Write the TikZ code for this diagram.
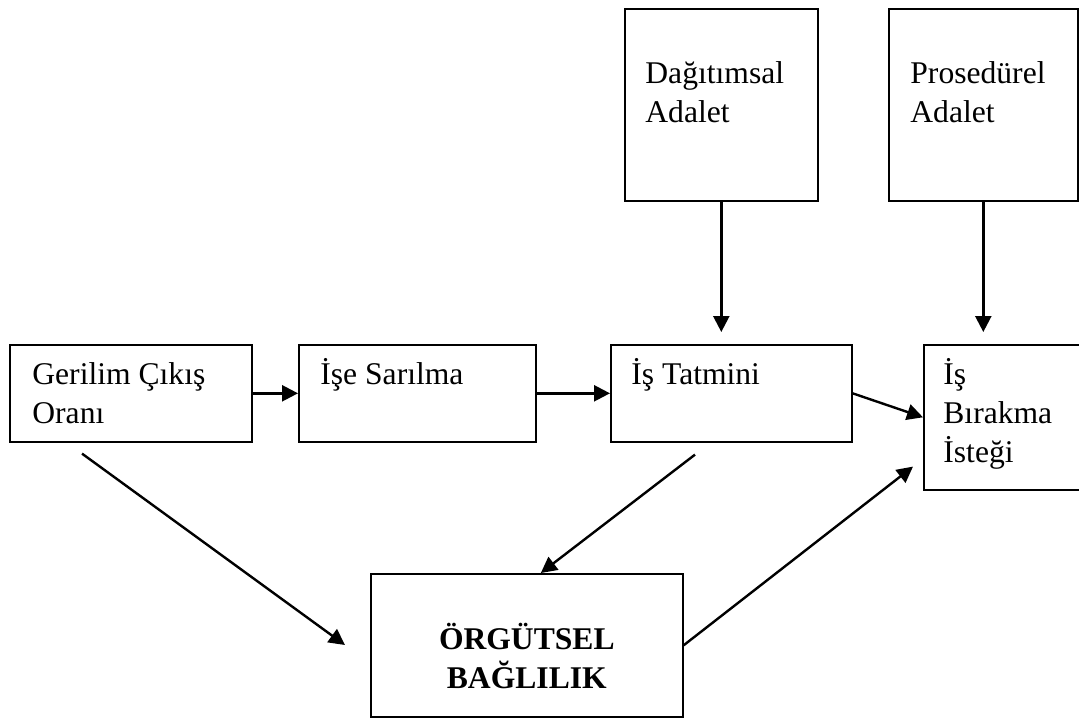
\documentclass[tikz,border=0pt]{standalone}
\usepackage{fontspec}
\setmainfont{Liberation Serif}
\usetikzlibrary{arrows.meta}
\newcommand{\metin}{\fontsize{15.8}{19.5}\selectfont}
\tikzset{kutu/.style={rectangle, draw, line width=0.8pt, inner sep=0pt, anchor=north west}}
\tikzset{yazi/.style={anchor=base west, align=left, inner sep=0pt, font=\metin}}
\tikzset{ok/.style={line width=1.2pt, -{Triangle[length=8pt, width=8pt]}}}

\begin{document}
\begin{tikzpicture}[x=0.5pt, y=-0.5pt]

    \useasboundingbox (0,0) rectangle (1079,718);
    \clip (0,0) rectangle (1079,718);

    \node[kutu, minimum width=96.5pt, minimum height=96pt,
          label={[yazi, xshift=10.5pt, yshift=-57pt]north west:Dağıtımsal\\Adalet}] (dag) at (624,8) {};
    \node[kutu, minimum width=94.5pt, minimum height=96pt,
          label={[yazi, xshift=11pt, yshift=-57pt]north west:Prosedürel\\Adalet}] (pro) at (888,8) {};

    \node[kutu, minimum width=121pt, minimum height=48.5pt,
          label={[yazi, xshift=11.5pt, yshift=-39.5pt]north west:Gerilim Çıkış\\Oranı}] (gco) at (9,344) {};
    \node[kutu, minimum width=118.5pt, minimum height=48.5pt,
          label={[yazi, xshift=11pt, yshift=-20pt]north west:İşe Sarılma}] (ise) at (298,344) {};
    \node[kutu, minimum width=120.5pt, minimum height=48.5pt,
          label={[yazi, xshift=10.5pt, yshift=-20pt]north west:İş Tatmini}] (ist) at (610,344) {};
    \node[kutu, minimum width=85pt, minimum height=72.5pt,
          label={[yazi, xshift=10pt, yshift=-59pt]north west:İş\\Bırakma\\İsteği}] (isb) at (923,344) {};

    \node[kutu, minimum width=156pt, minimum height=71.5pt,
          label={[yazi, anchor=base, align=center, yshift=-5.25pt, font=\metin\bfseries]center:ÖRGÜTSEL\\BAĞLILIK}] (org) at (370,573) {};

    \draw[ok] (gco) -- (ise);
    \draw[ok] (ise) -- (ist);
    \draw[ok] (ist.east) -- (isb.west);
    \draw[ok, shorten >=6pt] (dag.south) -- (dag.south |- ist.north);
    \draw[ok, shorten >=6pt] (pro.south) -- (pro.south |- isb.north);
    \draw[ok] ([shift={(73,11)}]gco.south west) -- ([shift={(-25,72)}]org.north west);
    \draw[ok] ([shift={(85,12)}]ist.south west) -- ([shift={(14,0)}]org.north);
    \draw[ok] (org.east) -- ([shift={(-10,-24)}]isb.south west);

\end{tikzpicture}
\end{document}
